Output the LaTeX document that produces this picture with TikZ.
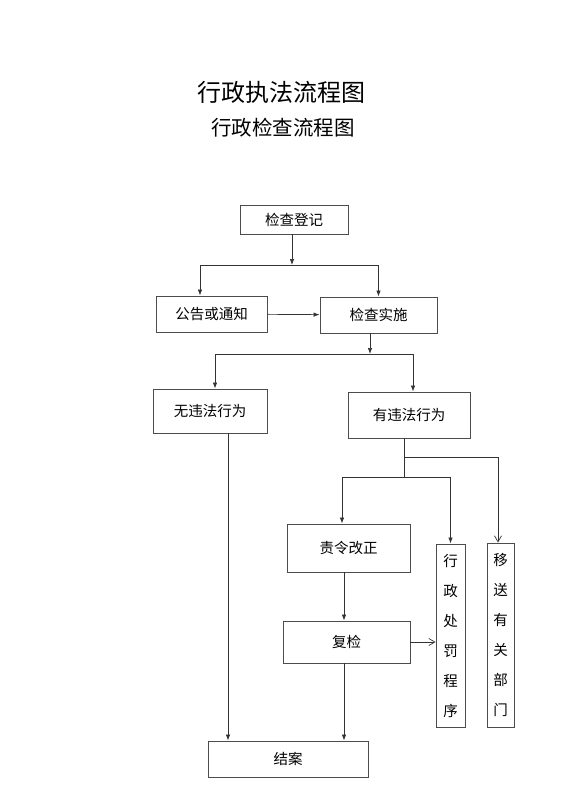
\documentclass[tikz,border=0pt]{standalone}
\usepackage{fontspec}
\newfontfamily\cjk{Noto Sans CJK SC}
\usetikzlibrary{arrows.meta}

\begin{document}
\begin{tikzpicture}[x=1pt,y=-1pt,
  box/.style={draw=black!70,line width=0.95pt,inner sep=0pt,
    font=\cjk\fontsize{14.5}{14.5}\selectfont},
  vbox/.style={box,align=center,font=\cjk\fontsize{14.5}{30}\selectfont},
  title/.style={font=\cjk\fontsize{24}{24}\selectfont},
  subtitle/.style={font=\cjk\fontsize{20.5}{20.5}\selectfont},
  line/.style={draw=black!80,line width=0.7pt},
  flow/.style={line,-{Latex[length=6pt,width=4.5pt]}},
  openflow/.style={line,-{Straight Barb[length=6pt,width=7pt]}}]
  \useasboundingbox (0,0) rectangle (565,800);

  \node[title] (t1) at (281,92) {行政执法流程图};
  \node[subtitle] (t2) at (283,128) {行政检查流程图};

  \node[box,minimum width=108pt,minimum height=29pt] (reg) at (294,219.5) {检查登记};
  \node[box,minimum width=111pt,minimum height=36pt] (notice) at (211.5,314) {公告或通知};
  \node[box,minimum width=117pt,minimum height=36pt] (exec) at (378.5,315) {检查实施};
  \node[box,minimum width=114pt,minimum height=44pt] (nolaw) at (210,411) {无违法行为};
  \node[box,minimum width=122pt,minimum height=46pt] (law) at (409,415) {有违法行为};
  \node[box,minimum width=123pt,minimum height=48pt] (fix) at (348.5,548) {责令改正};
  \node[box,minimum width=127pt,minimum height=42pt] (recheck) at (346.5,642) {复检};
  \node[box,minimum width=160pt,minimum height=36pt] (close) at (288,759) {结案};
  \node[vbox,minimum width=29pt,minimum height=183pt] (punish) at (450.5,635.5)
    {行\\政\\处\\罚\\程\\序};
  \node[vbox,minimum width=27pt,minimum height=184pt] (transfer) at (500.5,635)
    {移\\送\\有\\关\\部\\门};

  \coordinate (j1) at (292,265);
  \coordinate (j2) at (370,354);
  \coordinate (j3) at (404,457);
  \coordinate (j4) at (404,477);

  \draw[flow] (reg.south -| j1) -- (j1);
  \draw[flow] (j1) -| ([xshift=-11.5pt]notice.north);
  \draw[flow] (j1) -| (exec.north);
  \draw[flow] (notice) -- (exec);

  \draw[flow] (exec.south -| j2) -- (j2);
  \draw[flow] (j2) -| ([xshift=5pt]nolaw.north);
  \draw[flow] (j2) -| ([xshift=4pt]law.north);

  \draw[line] (law.south -| j3) -- (j4);
  \draw[openflow] (j3) -| ([xshift=-2.5pt]transfer.north);
  \draw[flow] (j4) -| ([xshift=-6.5pt]fix.north);
  \draw[flow] (j4) -| (punish.north);

  \draw[flow] ([xshift=-4.5pt]fix.south) -- ([xshift=-4.5pt]fix.south |- recheck.north);
  \draw[openflow] (recheck.east) -- (punish.west |- recheck.east);
  \draw[flow] ([xshift=-2.5pt]recheck.south) -- ([xshift=-2.5pt]recheck.south |- close.north);
  \draw[flow] ([xshift=18pt]nolaw.south) -- ([xshift=18pt]nolaw.south |- close.north);
\end{tikzpicture}
\end{document}
